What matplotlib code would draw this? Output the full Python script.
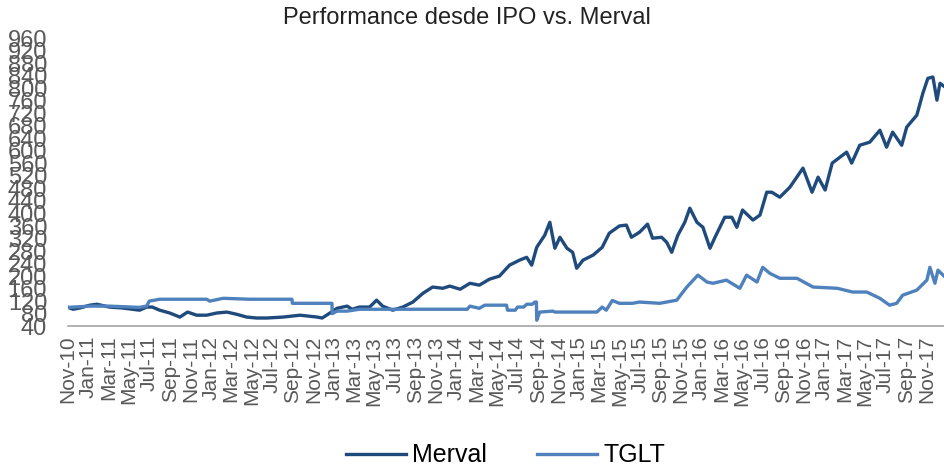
import matplotlib
matplotlib.use("Agg")
import matplotlib.pyplot as plt
import matplotlib.dates as mdates
import numpy as np
import pandas as pd

# Merval, indice base 100 en la fecha del IPO
merval_dates = [
    "2010-11-01", "2010-11-16", "2010-12-06", "2011-01-05", "2011-01-26", "2011-03-04",
    "2011-04-12", "2011-06-02", "2011-06-23", "2011-07-10", "2011-08-01", "2011-08-31",
    "2011-09-30", "2011-10-23", "2011-11-19", "2011-12-19", "2012-01-18", "2012-02-17",
    "2012-03-17", "2012-04-16", "2012-05-16", "2012-06-15", "2012-08-02", "2012-09-22",
    "2012-11-12", "2012-11-27", "2012-12-20", "2013-01-10", "2013-02-09", "2013-02-24",
    "2013-03-18", "2013-04-17", "2013-05-08", "2013-05-26", "2013-06-25", "2013-07-25",
    "2013-08-24", "2013-09-23", "2013-10-22", "2013-11-21", "2013-12-12", "2014-01-12",
    "2014-02-10", "2014-03-10", "2014-04-09", "2014-05-09", "2014-06-08", "2014-07-08",
    "2014-07-29", "2014-08-13", "2014-08-28", "2014-09-21", "2014-10-06", "2014-10-21",
    "2014-11-05", "2014-11-26", "2014-12-13", "2014-12-25", "2015-01-13", "2015-02-12",
    "2015-03-11", "2015-04-01", "2015-05-01", "2015-05-22", "2015-06-06", "2015-06-30",
    "2015-07-24", "2015-08-08", "2015-09-04", "2015-09-19", "2015-10-04", "2015-10-22",
    "2015-11-12", "2015-11-27", "2015-12-18", "2016-01-05", "2016-01-26", "2016-02-10",
    "2016-03-10", "2016-03-31", "2016-04-15", "2016-05-02", "2016-06-02", "2016-06-23",
    "2016-07-13", "2016-07-28", "2016-08-21", "2016-09-20", "2016-10-29", "2016-11-25",
    "2016-12-13", "2017-01-03", "2017-01-24", "2017-03-08", "2017-03-23", "2017-04-16",
    "2017-05-16", "2017-06-15", "2017-07-05", "2017-07-23", "2017-08-19", "2017-09-03",
    "2017-10-03", "2017-10-21", "2017-11-05", "2017-11-20", "2017-12-02", "2017-12-11",
    "2017-12-26",
]
merval_values = [
    100, 94, 98, 107, 110, 101,
    98, 91, 101, 101, 91, 82,
    69, 85, 75, 75, 82, 85,
    78, 69, 66, 66, 69, 75,
    69, 66, 82, 97, 104, 94,
    101, 101, 123, 104, 91, 101,
    117, 145, 165, 161, 168, 158,
    177, 171, 190, 200, 235, 251,
    260, 235, 292, 331, 372, 289,
    324, 289, 276, 225, 251, 267,
    292, 337, 360, 363, 324, 340,
    366, 321, 324, 308, 276, 330,
    372, 417, 372, 356, 289, 324,
    388, 388, 356, 411, 379, 395,
    468, 468, 452, 484, 545, 468,
    516, 475, 561, 596, 561, 618,
    628, 666, 612, 660, 618, 676,
    714, 784, 832, 836, 762, 816,
    804,
]

# TGLT, indice base 100 en la fecha del IPO
tglt_dates = [
    "2010-11-01", "2011-01-05", "2011-03-04", "2011-06-02", "2011-06-23", "2011-07-01",
    "2011-08-01", "2011-12-19", "2011-12-28", "2012-02-06", "2012-04-25", "2012-08-29",
    "2012-08-30", "2012-12-26", "2012-12-27", "2013-01-10", "2013-02-09", "2013-03-18",
    "2014-02-02", "2014-02-10", "2014-03-10", "2014-03-26", "2014-05-30", "2014-06-02",
    "2014-06-25", "2014-07-02", "2014-07-20", "2014-07-29", "2014-08-15", "2014-08-22",
    "2014-08-27", "2014-08-28", "2014-09-06", "2014-10-15",
    "2014-10-21", "2015-02-23", "2015-03-11", "2015-03-23", "2015-04-10", "2015-05-01",
    "2015-06-09", "2015-06-30", "2015-08-29", "2015-10-19", "2015-11-18", "2015-12-21",
    "2016-01-17", "2016-02-04", "2016-03-15", "2016-04-24", "2016-05-14", "2016-06-14",
    "2016-07-01", "2016-07-22", "2016-08-21", "2016-10-11", "2016-11-28", "2017-02-08",
    "2017-03-26", "2017-05-07", "2017-06-15", "2017-07-14", "2017-08-04", "2017-08-22",
    "2017-10-03", "2017-11-02", "2017-11-11", "2017-11-26", "2017-12-05", "2017-12-26",
]
tglt_values = [
    100, 104, 104, 100, 104, 120,
    126, 126, 120, 129, 126, 126,
    113, 113, 80, 88, 88, 94,
    94, 104, 97, 107, 107, 91,
    91, 101, 101, 110, 110, 117,
    117, 59, 85, 88,
    85, 85, 101, 91, 122, 113,
    113, 117, 113, 123, 165, 203,
    181, 177, 187, 161, 203, 181,
    228, 209, 193, 193, 165, 161,
    149, 149, 129, 107, 113, 139,
    155, 187, 228, 177, 219, 197,
]

y_ticks = list(range(40, 1000, 40))

merval = pd.Series(merval_values, index=pd.to_datetime(merval_dates))
tglt = pd.Series(tglt_values, index=pd.to_datetime(tglt_dates))

plt.rcParams["font.family"] = ["Liberation Sans", "DejaVu Sans"]

fig = plt.figure(figsize=(9.45, 4.72), dpi=100)
ax = fig.add_axes([0.072, 0.309, 0.928, 0.610])

ax.plot(merval.index, merval.values, color="#1f4a7c", lw=2.4, label="Merval")
ax.plot(tglt.index, tglt.values, color="#4f81bd", lw=2.4, label="TGLT")

ax.set_ylim(40, 960)
ax.set_yticks(y_ticks)
ax.set_xlim(pd.Timestamp("2010-11-01"), pd.Timestamp("2017-12-26"))
ax.xaxis.set_major_locator(mdates.MonthLocator(bymonth=[1, 3, 5, 7, 9, 11]))
ax.xaxis.set_major_formatter(mdates.DateFormatter("%b-%y"))

for s in ["top", "right", "left"]:
    ax.spines[s].set_visible(False)
ax.spines["bottom"].set_color("#a6a6a6")
ax.spines["bottom"].set_linewidth(1.2)

ax.tick_params(axis="x", length=0, pad=7, labelsize=15, labelcolor="#595959", labelrotation=90)
ax.tick_params(axis="y", length=0, pad=15, labelsize=17, labelcolor="#595959")

fig.suptitle("Performance desde IPO vs. Merval", x=0.494, y=0.985, va="top",
             fontsize=17, color="#222222")

fig.legend(loc="lower center", bbox_to_anchor=(0.535, -0.038), ncol=2, frameon=False,
           fontsize=18, handlelength=2.4, handletextpad=0.25, columnspacing=2.0)

fig.savefig("out.png", dpi=100)
